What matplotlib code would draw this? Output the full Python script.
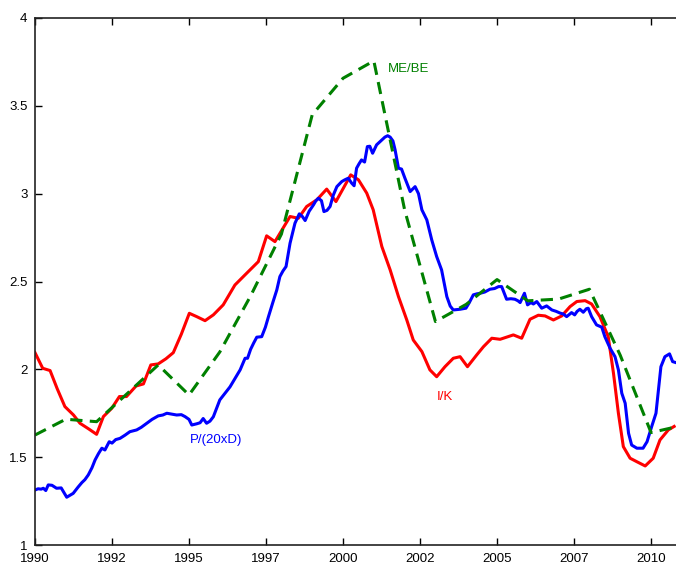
import numpy as np
import matplotlib
matplotlib.use('Agg')
import matplotlib.pyplot as plt

# I/K (red), roughly quarterly
ik_year = [1990.00, 1990.25, 1990.49, 1990.72, 1990.97, 1991.25, 1991.46, 1991.75, 1992.00,
           1992.22, 1992.49, 1992.74, 1992.97, 1993.28, 1993.52, 1993.76, 1994.00, 1994.25,
           1994.49, 1994.75, 1995.01, 1995.25, 1995.52, 1995.79, 1996.11, 1996.49, 1996.82,
           1997.25, 1997.52, 1997.79, 1998.28, 1998.55, 1998.82, 1999.15, 1999.47, 1999.77,
           2000.25, 2000.50, 2000.77, 2000.98, 2001.26, 2001.53, 2001.80, 2002.07, 2002.28,
           2002.56, 2002.82, 2003.04, 2003.31, 2003.58, 2003.80, 2004.04, 2004.34, 2004.56,
           2004.83, 2005.10, 2005.53, 2005.80, 2006.07, 2006.34, 2006.56, 2006.83, 2007.10,
           2007.37, 2007.59, 2007.86, 2008.07, 2008.34, 2008.61, 2008.78, 2008.94, 2009.10,
           2009.32, 2009.54, 2009.81, 2010.07, 2010.29, 2010.56, 2010.75]
ik_val = [2.095, 2.006, 1.993, 1.890, 1.788, 1.740, 1.693, 1.660, 1.630,
          1.731, 1.778, 1.845, 1.845, 1.905, 1.917, 2.025, 2.031, 2.060,
          2.095, 2.200, 2.319, 2.300, 2.277, 2.310, 2.367, 2.480, 2.538,
          2.613, 2.760, 2.727, 2.870, 2.860, 2.927, 2.965, 3.026, 2.955,
          3.107, 3.079, 3.003, 2.908, 2.699, 2.566, 2.414, 2.281, 2.167,
          2.101, 1.997, 1.958, 2.015, 2.063, 2.072, 2.015, 2.082, 2.129,
          2.177, 2.171, 2.196, 2.177, 2.285, 2.308, 2.304, 2.281, 2.304,
          2.357, 2.386, 2.391, 2.372, 2.300, 2.186, 1.978, 1.750, 1.560,
          1.494, 1.474, 1.450, 1.494, 1.598, 1.655, 1.675]

# P/(20xD) (blue), monthly-ish
pd_year = [1990.00, 1990.10, 1990.20, 1990.27, 1990.35, 1990.43, 1990.55, 1990.70, 1990.85,
           1991.03, 1991.24, 1991.40, 1991.52, 1991.62, 1991.73, 1991.85, 1991.95, 1992.06,
           1992.17, 1992.27, 1992.41, 1992.50, 1992.62, 1992.76, 1992.92, 1993.08, 1993.30,
           1993.45, 1993.63, 1993.80, 1994.00, 1994.15, 1994.28, 1994.45, 1994.60, 1994.75,
           1994.87, 1995.00, 1995.09, 1995.25, 1995.36, 1995.46, 1995.57, 1995.68, 1995.79,
           1995.90, 1996.00, 1996.15, 1996.33, 1996.50, 1996.66, 1996.82, 1996.90, 1997.00,
           1997.10, 1997.20, 1997.36, 1997.48, 1997.58, 1997.72, 1997.85, 1997.95, 1998.05,
           1998.15, 1998.28, 1998.44, 1998.58, 1998.68, 1998.77, 1998.90, 1999.04, 1999.12,
           1999.20, 1999.30, 1999.38, 1999.48, 1999.58, 1999.68, 1999.80, 1999.96, 2000.06,
           2000.17, 2000.28, 2000.36, 2000.44, 2000.52, 2000.60, 2000.70, 2000.79, 2000.87,
           2000.96, 2001.09, 2001.26, 2001.36, 2001.45, 2001.53, 2001.62, 2001.69, 2001.80,
           2001.90, 2002.01, 2002.18, 2002.34, 2002.45, 2002.56, 2002.72, 2002.88, 2003.04,
           2003.20, 2003.37, 2003.48, 2003.58, 2003.70, 2003.80, 2003.99, 2004.10, 2004.23,
           2004.35, 2004.45, 2004.60, 2004.77, 2004.92, 2005.05, 2005.15, 2005.31, 2005.45,
           2005.58, 2005.68, 2005.75, 2005.89, 2005.99, 2006.10, 2006.18, 2006.29, 2006.45,
           2006.61, 2006.78, 2006.92, 2007.05, 2007.15, 2007.26, 2007.42, 2007.52, 2007.60,
           2007.69, 2007.80, 2007.90, 2007.96, 2008.07, 2008.23, 2008.40, 2008.50, 2008.67,
           2008.83, 2008.94, 2009.05, 2009.16, 2009.27, 2009.37, 2009.54, 2009.74, 2009.87,
           2010.02, 2010.16, 2010.24, 2010.32, 2010.45, 2010.60, 2010.70, 2010.81]
pd_val = [1.313, 1.320, 1.318, 1.323, 1.310, 1.342, 1.340, 1.323, 1.325,
          1.272, 1.294, 1.330, 1.355, 1.372, 1.399, 1.440, 1.484, 1.520,
          1.551, 1.541, 1.588, 1.580, 1.600, 1.607, 1.625, 1.645, 1.655,
          1.670, 1.693, 1.715, 1.735, 1.740, 1.750, 1.745, 1.740, 1.742,
          1.731, 1.715, 1.683, 1.690, 1.696, 1.720, 1.693, 1.705, 1.730,
          1.780, 1.826, 1.860, 1.900, 1.950, 1.997, 2.063, 2.063, 2.114,
          2.150, 2.183, 2.186, 2.240, 2.300, 2.380, 2.452, 2.528, 2.560,
          2.585, 2.718, 2.832, 2.885, 2.870, 2.847, 2.900, 2.936, 2.960,
          2.974, 2.960, 2.898, 2.905, 2.927, 2.990, 3.040, 3.069, 3.079,
          3.088, 3.060, 3.045, 3.145, 3.170, 3.192, 3.180, 3.268, 3.270,
          3.230, 3.278, 3.306, 3.322, 3.330, 3.322, 3.300, 3.250, 3.145,
          3.140, 3.088, 3.012, 3.040, 3.000, 2.908, 2.851, 2.737, 2.642,
          2.566, 2.414, 2.360, 2.338, 2.340, 2.342, 2.348, 2.380, 2.424,
          2.430, 2.433, 2.440, 2.456, 2.460, 2.471, 2.471, 2.399, 2.402,
          2.399, 2.390, 2.380, 2.433, 2.367, 2.380, 2.372, 2.386, 2.348,
          2.361, 2.338, 2.330, 2.320, 2.315, 2.300, 2.323, 2.310, 2.330,
          2.342, 2.325, 2.345, 2.348, 2.300, 2.253, 2.240, 2.186, 2.120,
          2.072, 1.997, 1.864, 1.807, 1.636, 1.569, 1.551, 1.551, 1.588,
          1.674, 1.750, 1.883, 2.015, 2.072, 2.088, 2.044, 2.038]

# ME/BE (green dashed), annual
mebe_year = [1990, 1991, 1992, 1993, 1994, 1995, 1996, 1997, 1998, 1999, 2000,
             2001, 2002, 2003, 2004, 2005, 2006, 2007, 2008, 2009, 2010, 2011]
mebe_val = [1.626, 1.716, 1.702, 1.863, 2.025, 1.854, 2.099, 2.418, 2.770, 3.449, 3.657,
            3.756, 2.908, 2.272, 2.370, 2.511, 2.390, 2.400, 2.456, 2.080, 1.640, 1.680]

tick_pos = [1990, 1992.5, 1995, 1997.5, 2000, 2002.5, 2005, 2007.5, 2010]
tick_lab = ['1990', '1992', '1995', '1997', '2000', '2002', '2005', '2007', '2010']

plt.rcParams['font.family'] = ['Liberation Sans', 'DejaVu Sans']
plt.rcParams['font.size'] = 9.5

fig = plt.figure(figsize=(6.76, 5.62), dpi=100)
ax = fig.add_axes([35 / 676, 17 / 562, 641 / 676, 527 / 562])

green = '#008000'
ax.plot(ik_year, ik_val, color='red', lw=2.2)
ax.plot(pd_year, pd_val, color='blue', lw=2.2)
ax.plot(mebe_year, mebe_val, color=green, lw=2.2, ls=(0, (4, 2.4)))

ax.text(2001.45, 3.71, 'ME/BE', color=green, va='center')
ax.text(1995.03, 1.60, 'P/(20xD)', color='blue', va='center')
ax.text(2003.05, 1.84, 'I/K', color='red', va='center')

ax.set_xlim(1990, 2010.81)
ax.set_ylim(1, 4)
ax.set_xticks(tick_pos)
ax.set_xticklabels(tick_lab)
ax.set_yticks([1, 1.5, 2, 2.5, 3, 3.5, 4])
ax.set_yticklabels(['1', '1.5', '2', '2.5', '3', '3.5', '4'])
ax.tick_params(direction='in', length=5, width=1, top=True)
ax.tick_params(axis='x', pad=6)
ax.tick_params(axis='y', pad=5.5)
ax.spines['right'].set_visible(False)
for s in ['left', 'top', 'bottom']:
    ax.spines[s].set_linewidth(1.2)
    ax.spines[s].set_color('#222222')

fig.savefig('out.png', dpi=100)
